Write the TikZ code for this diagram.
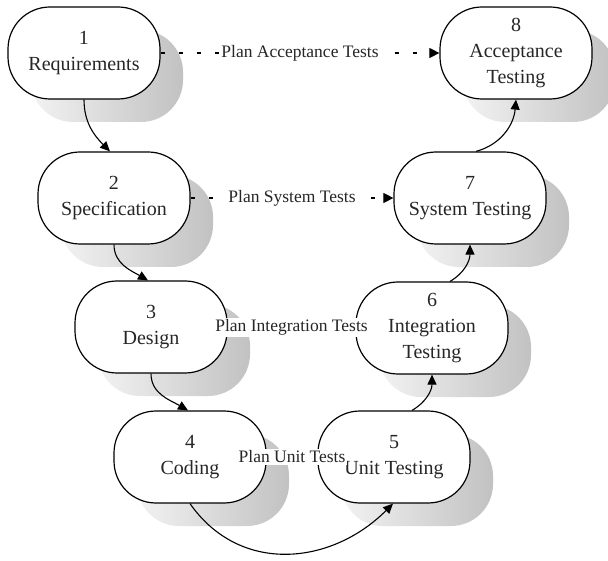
\documentclass[tikz,border=0pt]{standalone}
\usepackage{fontspec}
\setmainfont{Liberation Serif}
\usetikzlibrary{arrows.meta}
\begin{document}
\begin{tikzpicture}[x=1pt,y=1pt,
  stage/.style={draw=black, line width=1.2pt, fill=white, rounded corners=42pt,
    minimum width=152pt, minimum height=92pt, align=center, inner sep=0pt,
    font=\fontsize{20}{26}\selectfont, text=black!85},
  shadowbox/.style={rounded corners=42pt, left color=black!5, right color=black!24},
  flow/.style={line width=1.1pt, -{Triangle[length=10pt,width=9pt]}},
  plan/.style={line width=1.1pt, dash pattern=on 4pt off 14pt, -{Triangle[length=10pt,width=10pt]}},
  planlabel/.style={fill=white, inner sep=2pt, font=\fontsize{17.5}{20}\selectfont, text=black!85}
]
\useasboundingbox (0,0) rectangle (608,-561);
\newcommand\stagenode[4]{%
  \shade[shadowbox] (#2-76+23,#3-46-23) rectangle (#2+76+23,#3+46-23);
  \node[stage] (#1) at (#2,#3) {#4};
}
\stagenode{n1}{84}{-53}{1\\Requirements}
\stagenode{n2}{114}{-198}{2\\Specification}
\stagenode{n3}{151}{-327}{3\\Design}
\stagenode{n4}{190}{-457}{4\\Coding}
\stagenode{n5}{394}{-457}{5\\Unit Testing}
\stagenode{n6}{432}{-328}{6\\Integration\\Testing}
\stagenode{n7}{470}{-198}{7\\System Testing}
\stagenode{n8}{516}{-53}{8\\Acceptance\\Testing}

\draw[flow] (n1.south) to[out=-90,in=135] ([xshift=-4pt]n2.north);
\draw[flow] (n2.south) to[out=-90,in=150] ([xshift=-3pt]n3.north);
\draw[flow] (n3.south) to[out=-90,in=150] ([xshift=-2pt]n4.north);
\draw[flow] (n4.south) to[out=-55,in=-135,looseness=1.1] ([xshift=-1pt]n5.south);
\draw[flow] ([xshift=18pt]n5.north) to[out=30,in=-90] (n6.south);
\draw[flow] ([xshift=18pt]n6.north) to[out=30,in=-90] (n7.south);
\draw[flow] ([xshift=6pt]n7.north) to[out=15,in=-95] (n8.south);

\draw[plan] (n1.east) -- node[planlabel]{Plan Acceptance Tests} (n8.west);
\draw[plan] (n2.east) -- node[planlabel]{Plan System Tests} (n7.west);
\draw[plan] (n3.east) -- node[planlabel]{Plan Integration Tests} (n6.west);
\draw[plan] (n4.east) -- node[planlabel]{Plan Unit Tests} (n5.west);
\end{tikzpicture}
\end{document}
